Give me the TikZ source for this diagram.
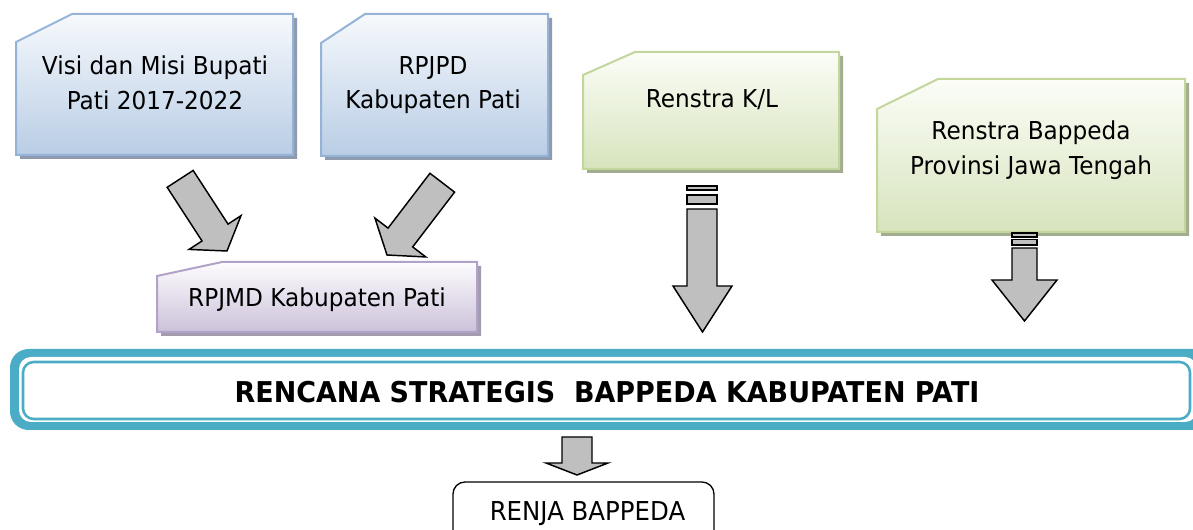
\documentclass[tikz,border=0pt]{standalone}
\usepackage{fontspec}
\setmainfont{DejaVu Sans}[FakeStretch=0.94]
\definecolor{bluetop}{HTML}{F6F9FC}
\definecolor{bluebot}{HTML}{B9CDE5}
\definecolor{blueline}{HTML}{95B3D7}
\definecolor{blueshadow}{HTML}{8E9BAE}
\definecolor{greentop}{HTML}{FBFDF7}
\definecolor{greenbot}{HTML}{D7E4BD}
\definecolor{greenline}{HTML}{C3D69B}
\definecolor{greenshadow}{HTML}{A2AC90}
\definecolor{purptop}{HTML}{FDFCFE}
\definecolor{purpbot}{HTML}{CCC1DA}
\definecolor{purpline}{HTML}{B3A2C7}
\definecolor{purpshadow}{HTML}{A49BAF}
\definecolor{bandteal}{HTML}{4BACC6}
\definecolor{arrowgray}{HTML}{BFBFBF}
\tikzset{
  lbl/.style={align=center, font=\fontsize{18.5}{26}\selectfont, inner sep=0pt},
  blockarrow/.style={fill=arrowgray, draw=black, line width=1.1pt, line join=miter},
}
% #1 x1, #2 y1, #3 x2, #4 y2, #5 notch dx, #6 notch dy, #7 colour prefix
\newcommand\notchbox[7]{%
  \begin{scope}[shift={(4,4)}]
    \fill[#7shadow] (#1,#2+#6) -- (#1+#5,#2) -- (#3,#2) -- (#3,#4) -- (#1,#4) -- cycle;
  \end{scope}
  \path[draw=#7line, line width=1.5pt, top color=#7top, bottom color=#7bot]
    (#1,#2+#6) -- (#1+#5,#2) -- (#3,#2) -- (#3,#4) -- (#1,#4) -- cycle;
}
\begin{document}
\begin{tikzpicture}[x=0.75pt, y=-0.75pt]
\useasboundingbox (0,0) rectangle (1193,530);
\clip (0,0) rectangle (1193,530);

% source boxes
\notchbox{16}{14}{293}{155}{56}{28}{blue}
\node[lbl] (visi) at (155,83) {Visi dan Misi Bupati\\Pati 2017-2022};
\notchbox{321}{14}{548}{156}{44}{29}{blue}
\node[lbl] (rpjpd) at (433,85) {RPJPD\\Kabupaten Pati};
\notchbox{583}{52}{839}{169}{52}{23}{green}
\node[lbl] (kl) at (712,100) {Renstra K/L};
\notchbox{877}{79}{1185}{232}{61}{30}{green}
\node[lbl] (prov) at (1031,150) {Renstra Bappeda\\Provinsi Jawa Tengah};
\notchbox{157}{262}{477}{332}{65}{14}{purp}
\node[lbl] (rpjmd) at (317,300) {RPJMD Kabupaten Pati};

% diagonal arrows
\begin{scope}[shift={(227,251)}, rotate=-57]
  \draw[blockarrow] (-86,-15.5) -- (-22,-15.5) -- (-22,-31) -- (0,0) -- (-22,31) -- (-22,15.5) -- (-86,15.5) -- cycle;
\end{scope}
\begin{scope}[shift={(387,255)}, rotate=-127.4]
  \draw[blockarrow] (-91,-15.5) -- (-22,-15.5) -- (-22,-32) -- (0,0) -- (-22,32) -- (-22,15.5) -- (-91,15.5) -- cycle;
\end{scope}

% vertical striped arrows
\draw[blockarrow] (687,186) rectangle (717,190);
\draw[blockarrow] (687,195) rectangle (717,204);
\draw[blockarrow] (687,209) -- (717,209) -- (717,286) -- (732,286) -- (702.5,332) -- (673,286) -- (687,286) -- cycle;

\draw[blockarrow] (1012,233) rectangle (1037,237);
\draw[blockarrow] (1012,239.5) rectangle (1037,245);
\draw[blockarrow] (1012,248) -- (1037,248) -- (1037,280) -- (1057,280) -- (1024.5,321) -- (992,280) -- (1012,280) -- cycle;

% main banner
\fill[bandteal, rounded corners=14] (10,349) rectangle (1215,430);
\fill[white, rounded corners=9] (19,357) rectangle (1197,422);
\draw[bandteal, line width=1.9pt, rounded corners=8] (23,362) rectangle (1190,419);
\node[font=\fontsize{21.5}{24}\selectfont\bfseries, inner sep=0pt] (renstra) at (607,392) {RENCANA STRATEGIS\ \ BAPPEDA KABUPATEN PATI};

% bottom arrow
\draw[blockarrow] (562,437) -- (592,437) -- (592,463) -- (608,463) -- (577,475) -- (546,463) -- (562,463) -- cycle;

% renja
\draw[line width=1pt, rounded corners=9] (453,482) rectangle (714,548);
\node[lbl, font=\fontsize{19.5}{24}\selectfont] (renja) at (587.5,514) {RENJA BAPPEDA};
\end{tikzpicture}
\end{document}
